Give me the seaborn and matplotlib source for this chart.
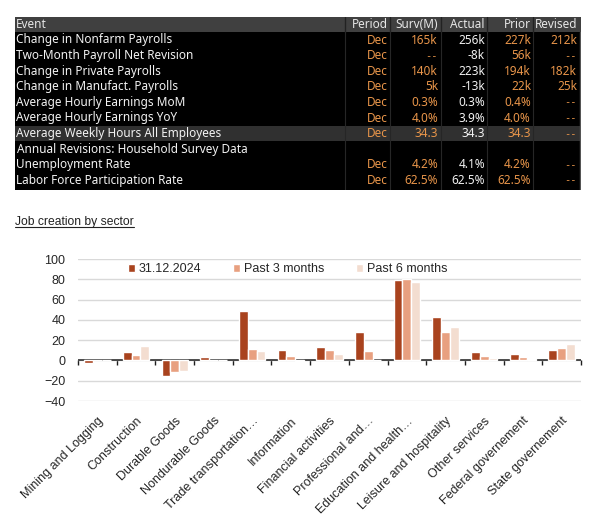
import numpy as np
import pandas as pd
import seaborn as sns
import matplotlib.pyplot as plt
from matplotlib.lines import Line2D
from matplotlib.patches import Rectangle
from matplotlib.transforms import IdentityTransform

# ---- table data (Bloomberg screen) ----
events = ["Change in Nonfarm Payrolls", "Two-Month Payroll Net Revision",
          "Change in Private Payrolls", "Change in Manufact. Payrolls",
          "Average Hourly Earnings MoM", "Average Hourly Earnings YoY",
          "Average Weekly Hours All Employees",
          "Annual Revisions: Household Survey Data",
          "Unemployment Rate", "Labor Force Participation Rate"]
period = ["Dec", "Dec", "Dec", "Dec", "Dec", "Dec", "Dec", "", "Dec", "Dec"]
surv = ["165k", "--", "140k", "5k", "0.3%", "4.0%", "34.3", "", "4.2%", "62.5%"]
actual = ["256k", "-8k", "223k", "-13k", "0.3%", "3.9%", "34.3", "", "4.1%", "62.5%"]
prior = ["227k", "56k", "194k", "22k", "0.4%", "4.0%", "34.3", "", "4.2%", "62.5%"]
revised = ["212k", "--", "182k", "25k", "--", "--", "--", "", "--", "--"]
headers = ["Period", "Surv(M)", "Actual", "Prior", "Revised"]

# ---- chart data ----
sectors = ["Mining and Logging", "Construction", "Durable Goods", "Nondurable Goods",
           "Trade transportation\u2026", "Information", "Financial activities",
           "Professional and\u2026", "Education and health\u2026",
           "Leisure and hospitality", "Other services", "Federal governement",
           "State governement"]
series = ["31.12.2024", "Past 3 months", "Past 6 months"]
dec_2024 = [-2.5, 8, -15.5, 3, 49, 10, 13, 28, 79, 43, 8, 6, 10]
past_3m = [0, 5, -11.5, 0, 11, 4, 10, 9, 80, 28.5, 4, 3, 12]
past_6m = [0, 14, -10.5, 0, 9, -0.8, 6, 0, 77, 32.5, 2.5, 1.5, 16]
colors = ["#a9431e", "#e8a080", "#f3ddd0"]

df = pd.DataFrame({
    "sector": sectors * 3,
    "value": dec_2024 + past_3m + past_6m,
    "series": [s for s in series for _ in sectors],
})

sns.set_theme(style="white")
plt.rcParams["font.family"] = ["Liberation Sans", "DejaVu Sans"]

W, H = 611, 518
fig = plt.figure(figsize=(W / 100, H / 100), dpi=100)

# ---------------- table ----------------
tab = fig.add_axes([15 / W, 1 - 190 / H, 566 / W, 173 / H])
tab.set_xlim(15, 581)
tab.set_ylim(190, 17)
tab.axis("off")
tab.add_patch(Rectangle((15, 17), 566, 173, color="black", lw=0))
tab.add_patch(Rectangle((15, 17), 566, 15, color="#404040", lw=0))
tab.add_patch(Rectangle((15, 126), 566, 15, color="#303030", lw=0))
for sx in [345, 390, 441, 487, 533]:
    tab.plot([sx, sx], [17, 32], color="#222222", lw=1)
    tab.plot([sx, sx], [32, 190], color="#262626", lw=0.8)
tab.plot([580, 580], [32, 190], color="#555555", lw=1)

tfont = dict(family=["Noto Sans", "DejaVu Sans"], fontsize=8.5, va="center")
dash_font = dict(family=["DejaVu Sans Mono"], fontsize=7.5, va="center")
orange = "#e8954a"
white = "#f2f2f2"
col_right = [388, 438, 485, 531, 577]
tab.text(16, 24.5, "Event", ha="left", color="#e6e6e6", **tfont)
for h, xr in zip(headers, col_right):
    tab.text(xr, 24.5, h, ha="right", color="#e6e6e6", **tfont)

for i, ev in enumerate(events):
    yc = 40 + 15.6 * i
    tab.text(16 if i != 7 else 17, yc, ev, ha="left", color=white, **tfont)
    vals = [period[i], surv[i], actual[i], prior[i], revised[i]]
    for j, (v, xr) in enumerate(zip(vals, col_right)):
        style = dash_font if v == "--" else tfont
        tab.text(xr, yc, v, ha="right", color=white if j == 2 else orange, **style)

# ---------------- title ----------------
title = fig.text(15 / W, 1 - 222 / H, "Job creation by sector", ha="left", va="center",
                 fontsize=8.7, color="#222222",
                 family=["Liberation Sans Narrow", "Liberation Sans"])

# ---------------- bar chart ----------------
ax = fig.add_axes([78 / W, 1 - 401 / H, 503 / W, 142 / H])
sns.barplot(data=df, x="sector", y="value", hue="series", palette=colors,
            saturation=1, width=0.68, errorbar=None, ax=ax)
ax.set_ylim(-40, 100)
ax.set_yticks(range(-40, 101, 20))
ax.set_xlim(-0.5, len(sectors) - 0.5)
ax.set_xlabel("")
ax.set_ylabel("")
ax.yaxis.grid(True, color="#d9d9d9", lw=1)
ax.set_axisbelow(True)
ax.axhline(0, color="#1e1e1e", lw=1.1, zorder=0.9)
for s in ax.spines.values():
    s.set_visible(False)
ax.tick_params(axis="y", length=0, pad=9, labelsize=9, labelcolor="#262626")
ax.tick_params(axis="x", length=0, pad=10, labelsize=9, labelcolor="#262626")
ax.set_xticks(range(len(sectors)))
ax.set_xticklabels(sectors, rotation=45, ha="right", rotation_mode="anchor")

# category boundary ticks on the zero line
zero_pos = (0 - (-40)) / (100 - (-40))
sec = ax.secondary_xaxis(zero_pos)
for sp in sec.spines.values():
    sp.set_visible(False)
sec.set_xticks(np.arange(-0.5, len(sectors), 1))
sec.tick_params(axis="x", which="both", top=False, bottom=True, direction="out",
                length=3.5, width=1, color="#1e1e1e",
                labeltop=False, labelbottom=False)

leg = ax.legend(ncol=3, frameon=False, loc="upper left", bbox_to_anchor=(0.09, 1.0),
                borderaxespad=0, borderpad=0.35, fontsize=9, handlelength=0.6,
                handleheight=0.6, handletextpad=0.3, columnspacing=2.5)
for t in leg.get_texts():
    t.set_color("#262626")

# underline the title
fig.canvas.draw()
bb = title.get_window_extent()
fig.add_artist(Line2D([bb.x0, bb.x1], [bb.y0 + 1, bb.y0 + 1], lw=0.8,
                      color="#222222", transform=IdentityTransform()))

fig.savefig("out.png", dpi=100)
